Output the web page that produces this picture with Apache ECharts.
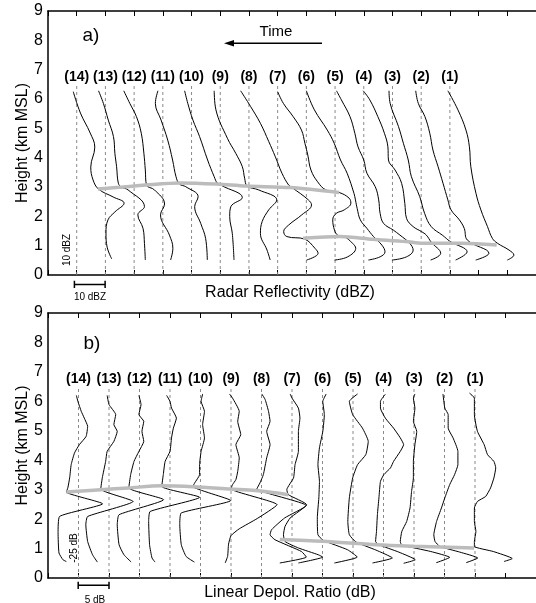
<!DOCTYPE html>
<html>
<head>
<meta charset="utf-8">
<script src="https://cdn.jsdelivr.net/npm/echarts@6/dist/echarts.min.js"></script>
<style>
  html, body { margin: 0; padding: 0; background: #fff; }
  #chart { width: 536px; height: 603px; }
</style>
</head>
<body>
<div id="chart"></div>
<script>
  // profile numbers, left (14) to right (1); profile i sits on x = i + 1
  var profileNames = ['(14)', '(13)', '(12)', '(11)', '(10)', '(9)', '(8)', '(7)', '(6)', '(5)', '(4)', '(3)', '(2)', '(1)'];
  var heightTicks = [0, 1, 2, 3, 4, 5, 6, 7, 8, 9];

  // a) reflectivity profiles: [offset from own baseline (1 = 10 dBZ), height km]
  var zProfiles = [
    [[-0.12,6.25],[0.13,5.52],[0.47,4.84],[0.63,4.36],[0.49,3.68],[0.57,3.24],[0.76,2.93],[1.27,2.66],[1.65,2.45],[1.33,2.15],[1.09,1.88],[1.02,1.43],[1.06,0.95],[1.22,0.55]],
    [[-0.24,6.28],[-0.07,5.85],[0.10,5.28],[0.28,4.72],[0.33,4.15],[0.39,3.69],[0.45,3.13],[0.55,3.0],[0.79,2.9],[1.36,2.33],[1.13,2.05],[1.31,1.59],[1.36,1.08],[1.39,0.51]],
    [[-0.36,6.28],[-0.15,5.85],[0.08,5.4],[0.25,4.83],[0.34,4.15],[0.39,3.58],[0.43,3.07],[0.71,2.9],[1.06,2.42],[0.92,2.05],[1.23,1.36],[1.35,0.91],[1.27,0.51]],
    [[-0.17,6.28],[-0.26,5.85],[-0.06,5.28],[0.17,4.6],[0.34,3.92],[0.46,3.35],[0.58,3.1],[0.8,3.01],[1.23,2.67],[1.11,2.33],[1.32,1.76],[1.49,1.25],[1.55,0.51]],
    [[-0.24,6.28],[-0.13,5.85],[0.05,5.28],[0.28,4.72],[0.56,3.92],[0.79,3.35],[0.9,3.13],[1.05,3.05],[1.77,2.64],[1.37,2.33],[1.33,1.99],[1.42,1.42],[1.48,0.51]],
    [[-0.21,6.28],[-0.15,5.63],[0.25,4.66],[0.54,4.15],[0.77,3.69],[0.85,3.3],[0.94,3.03],[1.34,2.9],[1.97,2.56],[1.69,2.22],[1.46,1.82],[1.4,1.42],[1.63,0.85],[1.74,0.51]],
    [[-0.29,6.28],[0.06,5.74],[0.4,5.17],[0.69,4.55],[0.92,4.03],[1.15,3.47],[1.38,3.07],[1.49,2.99],[2.07,2.56],[2.18,2.39],[1.84,2.05],[1.38,1.7],[1.21,1.48],[1.32,1.31],[1.95,1.22],[2.3,0.91],[2.41,0.74],[2.01,0.51]],
    [[0,6.25],[0.2,5.85],[0.54,5.4],[0.83,4.94],[0.95,4.49],[1.05,4.09],[1.16,3.58],[1.39,3.18],[1.68,2.9],[2.15,2.81],[2.49,2.62],[2.55,2.45],[2.32,2.22],[2.04,2.1],[1.92,1.88],[1.98,1.53],[2.09,1.36],[2.32,1.31],[2.61,1.08],[2.72,0.91],[2.44,0.62],[1.98,0.51]],
    [[0,6.28],[0.28,5.63],[0.73,4.94],[0.97,4.49],[1.19,3.92],[1.42,3.47],[1.66,2.78],[1.71,2.56],[1.77,2.27],[1.88,1.88],[2.11,1.59],[2.34,1.31],[2.63,1.02],[2.74,0.79],[2.57,0.62],[2.16,0.51]],
    [[0.05,6.28],[0.22,5.97],[0.52,5.4],[0.69,4.83],[0.8,4.37],[1.0,3.92],[1.11,3.47],[1.4,3.01],[1.52,2.56],[1.57,2.1],[1.69,1.76],[2.03,1.53],[2.26,1.36],[2.6,1.08],[2.72,0.85],[2.49,0.62],[1.98,0.51]],
    [[-0.02,6.28],[0.21,5.97],[0.49,5.4],[0.72,4.83],[0.84,4.37],[0.86,3.92],[1.09,3.58],[1.32,3.12],[1.43,2.44],[1.49,1.93],[1.72,1.65],[2.01,1.48],[2.18,1.36],[2.35,1.12],[2.68,0.74],[2.33,0.51]],
    [[-0.12,6.28],[-0.08,5.85],[0.21,5.06],[0.38,4.49],[0.55,3.92],[0.66,3.35],[0.95,2.67],[1.12,2.1],[1.35,1.65],[1.75,1.35],[2.0,1.15],[2.6,0.79],[2.2,0.51]],
    [[-0.19,6.28],[-0.1,5.85],[0.13,5.4],[0.3,4.83],[0.41,4.26],[0.59,3.69],[0.76,3.13],[0.93,2.56],[1.04,2.22],[1.33,1.88],[1.5,1.59],[1.61,1.19],[2.36,0.74],[1.9,0.51]],
    [[-0.07,6.28],[0.28,5.63],[0.56,4.94],[0.68,4.37],[0.73,3.69],[0.91,2.78],[1.08,2.22],[1.31,1.65],[1.48,1.25],[1.66,1.08],[2.06,0.85],[2.23,0.68],[2.0,0.51]]
  ];

  // b) LDR profiles: [offset from own baseline (1 = 5 dB), height km]
  var ldrProfiles = [
    [[-0.07,6.2],[-0.02,6.0],[0.09,5.66],[0.19,5.43],[0.30,5.15],[0.25,4.81],[0.03,4.53],[-0.13,4.25],[-0.24,3.85],[-0.29,3.4],[-0.35,3.06],[-0.4,2.92],[0.79,2.52],[-0.62,2.09],[-0.67,1.54],[-0.64,0.85],[-0.51,0.62],[-0.4,0.56]],
    [[-0.06,6.2],[0,5.89],[0.22,5.55],[0.16,5.21],[0.27,4.98],[0.16,4.64],[-0.06,4.3],[-0.11,3.96],[-0.22,3.4],[-0.27,3.02],[0.79,2.6],[-0.7,2.09],[-0.76,1.81],[-0.7,1.24],[-0.54,0.79],[-0.38,0.54]],
    [[-0.02,6.2],[0.05,5.89],[-0.02,5.55],[0.14,5.32],[0.08,4.98],[0.14,4.64],[-0.02,4.3],[-0.18,3.96],[-0.29,3.51],[-0.35,3.06],[0.79,2.66],[-0.67,2.15],[-0.73,1.81],[-0.67,1.13],[-0.51,0.79],[-0.27,0.54]],
    [[-0.11,6.2],[0,6.0],[0.05,5.77],[0.21,5.43],[0.11,5.09],[0.05,4.76],[0,4.3],[-0.16,3.96],[-0.22,3.51],[-0.27,3.11],[0.97,2.74],[-0.65,2.26],[-0.7,1.92],[-0.67,1.13],[-0.59,0.68],[-0.49,0.54]],
    [[0.07,6.25],[0.02,6.0],[0.13,5.66],[0.07,5.21],[0.13,4.76],[0.02,4.3],[-0.03,3.85],[-0.03,3.51],[-0.19,3.23],[-0.25,3.11],[0.99,2.63],[-0.63,2.21],[-0.68,1.81],[-0.63,1.13],[-0.47,0.73],[-0.2,0.54]],
    [[-0.05,6.25],[0.05,6.11],[0.27,5.66],[0.22,5.32],[0.32,4.87],[0.16,4.53],[0.27,4.08],[0.22,3.62],[0.16,3.34],[0.05,3.17],[0,3.03],[1.51,2.49],[0.86,2.02],[0.27,1.67],[0,1.44],[-0.08,1.15],[-0.11,0.74],[-0.19,0.51]],
    [[0.01,6.25],[0.12,6.06],[0.23,5.66],[0.28,5.32],[0.17,4.98],[0.28,4.53],[0.17,4.08],[0.06,3.51],[-0.05,3.23],[-0.15,3.03],[1.47,2.46],[0.76,2.04],[0.33,1.64],[0.28,1.47],[0.44,1.3],[1.31,0.9],[1.47,0.71],[0.6,0.51]],
    [[-0.06,6.25],[0,6.11],[0.21,5.77],[0.26,5.43],[0.21,4.98],[0.21,4.3],[0.1,3.85],[0.05,3.4],[-0.17,3.0],[-0.12,2.83],[0.48,2.49],[-0.06,2.04],[-0.23,1.75],[-0.28,1.47],[-0.23,1.24],[0.21,1.02],[0.86,0.79],[1.01,0.71],[0.21,0.51]],
    [[0.12,6.25],[0.01,6.0],[0.06,5.55],[0.01,4.98],[-0.1,4.42],[-0.15,3.85],[-0.1,3.28],[-0.12,2.72],[-0.17,2.04],[-0.15,1.47],[0.02,1.28],[0.82,0.96],[1.14,0.71],[0.39,0.51]],
    [[0.15,6.25],[-0.12,6.0],[-0.01,5.55],[0.31,5.09],[0.5,4.64],[0.42,4.19],[0.15,3.85],[-0.01,3.4],[-0.12,2.72],[-0.17,1.92],[-0.12,1.47],[0.1,1.22],[0.75,0.95],[1.29,0.68],[0.64,0.51]],
    [[0.06,6.24],[-0.1,6.0],[-0.1,5.77],[0.06,5.43],[0.33,5.09],[0.55,4.76],[0.66,4.53],[0.55,4.3],[0.33,3.96],[0.23,3.74],[0.01,3.51],[-0.1,3.28],[-0.15,2.72],[-0.2,2.15],[-0.23,1.58],[-0.26,1.24],[-0.15,1.13],[0.5,0.88],[1.04,0.62],[0.66,0.5]],
    [[0.03,6.25],[-0.02,6.11],[0.03,5.77],[-0.02,5.32],[0.09,4.98],[0.03,4.53],[-0.02,3.96],[-0.02,3.4],[-0.08,2.94],[-0.13,2.38],[-0.24,1.92],[-0.4,1.58],[-0.45,1.24],[-0.4,1.12],[0.55,0.9],[1.17,0.7],[0.73,0.52]],
    [[-0.05,6.25],[0.01,5.77],[0.12,5.55],[0.12,5.09],[0.28,4.76],[0.44,4.3],[0.44,3.85],[0.33,3.51],[0.17,3.17],[0.01,2.72],[-0.1,2.38],[-0.26,1.92],[-0.35,1.47],[-0.31,1.24],[-0.15,1.07],[0.5,0.88],[1.09,0.68],[0.71,0.52]],
    [[-0.18,6.28],[-0.02,6.11],[-0.02,5.55],[0.08,4.98],[0.3,4.53],[0.41,4.19],[0.62,3.96],[0.68,3.74],[0.62,3.4],[0.51,3.06],[0.35,2.77],[0.08,2.6],[-0.02,2.38],[-0.02,1.92],[0.03,1.58],[-0.02,1.24],[-0.02,1.07],[0.6,0.9],[1.22,0.66],[0.95,0.56]]
  ];

  // gray layer lines [x, height]
  var zTopLine = [[1.74,2.93],[2.49,2.99],[3.41,3.07],[4.6,3.14],[5.87,3.1],[6.91,3.03],[8.46,2.98],[10.14,2.81]];
  var zBottomLine = [[8.88,1.25],[10.17,1.31],[11.32,1.22],[12.47,1.14],[13.04,1.08],[14.42,1.08],[15.63,1.02]];
  var ldrTopLine = [[0.6,2.92],[1.73,3.0],[2.64,3.06],[3.72,3.13],[4.75,3.1],[5.99,3.02],[6.8,2.97],[7.88,2.83]];
  var ldrBottomLine = [[7.6,1.31],[9.0,1.25],[10.77,1.13],[12.0,1.08],[13.97,1.02]];

  // scale bars [x, height]
  var zScaleBar = [[0.92,-0.2],[0.92,-0.44],[0.92,-0.32],[1.99,-0.32],[1.99,-0.2],[1.99,-0.44]];
  var ldrScaleBar = [[0.99,-0.13],[0.99,-0.37],[0.99,-0.25],[2.0,-0.25],[2.0,-0.13],[2.0,-0.37]];

  var FONT = '"Liberation Sans", Arial, Helvetica, sans-serif';
  var dom = document.getElementById('chart');
  var myChart = echarts.init(dom, null, { renderer: 'canvas' });

  function xAxisFor(grid, max, pos) {
    return {
      gridIndex: grid, type: 'value', min: 0, max: max, interval: 1, position: pos,
      axisLine: { show: true, onZero: false, lineStyle: { color: '#000', width: 1.5 } },
      axisTick: { show: true, inside: true, length: 5, lineStyle: { color: '#000', width: 1 } },
      axisLabel: { show: false },
      splitLine: { show: false }
    };
  }
  function yAxisFor(grid) {
    return {
      gridIndex: grid, type: 'value', min: 0, max: 9, interval: 1,
      name: 'Height (km MSL)', nameLocation: 'middle', nameGap: 17, nameMoveOverlap: false,
      nameTextStyle: { fontSize: 16, color: '#000', fontFamily: FONT },
      axisLine: { show: true, onZero: false, lineStyle: { color: '#000', width: 1.5 } },
      axisTick: { show: false },
      axisLabel: {
        fontSize: 16, color: '#000', margin: 5, fontFamily: FONT,
        formatter: function(v) { return heightTicks.indexOf(v) >= 0 ? String(v) : ''; }
      },
      splitLine: { show: false }
    };
  }

  var series = [];
  function addPanel(grid, profiles, topLine, bottomLine, scaleBar, dashTop, labelY, smoothVal) {
    var xBot = grid * 2;
    for (var i = 0; i < profiles.length; i++) {
      var base = i + 1;
      // dashed baseline
      series.push({
        type: 'line', xAxisIndex: xBot, yAxisIndex: grid, silent: true,
        data: [[base, 0], [base, dashTop]], showSymbol: false,
        lineStyle: { color: '#8a8a8a', width: 1, type: [3, 3] }, z: 2
      });
      series.push({
        type: 'line', xAxisIndex: xBot, yAxisIndex: grid, silent: true,
        data: profiles[i].map(function(p) { return [base + p[0], p[1]]; }),
        showSymbol: false, smooth: smoothVal,
        lineStyle: { color: '#000', width: 1 }, z: 3
      });
    }
    [topLine, bottomLine].forEach(function(l) {
      series.push({
        type: 'line', xAxisIndex: xBot, yAxisIndex: grid, silent: true,
        data: l, showSymbol: false, smooth: 0.3,
        lineStyle: { color: '#bcbcbc', width: 3.5 }, z: 4
      });
    });
    series.push({
      type: 'line', xAxisIndex: xBot, yAxisIndex: grid, silent: true, clip: false,
      data: scaleBar, showSymbol: false,
      lineStyle: { color: '#000', width: 1.5 }, z: 5
    });
    series.push({
      type: 'scatter', xAxisIndex: xBot, yAxisIndex: grid, silent: true,
      data: profileNames.map(function(n, i) { return [i + 1, labelY]; }),
      symbolSize: 0,
      label: {
        show: true, position: 'inside', color: '#000', fontSize: 14, fontWeight: 'bold',
        fontFamily: FONT, textBorderWidth: 0, opacity: 1,
        formatter: function(p) { return profileNames[p.dataIndex]; }
      }, z: 5
    });
  }
  addPanel(0, zProfiles, zTopLine, zBottomLine, zScaleBar, 6.53, 6.75, 0.4);
  addPanel(1, ldrProfiles, ldrTopLine, ldrBottomLine, ldrScaleBar, 6.5, 6.74, 0.15);

  function txt(x, y, s, size, rot, weight) {
    return {
      type: 'text', x: x, y: y, rotation: rot || 0, silent: true,
      style: { text: s, fill: '#000', font: (weight || 'normal') + ' ' + size + 'px ' + FONT, textAlign: 'center', textVerticalAlign: 'middle' }
    };
  }

  option = null;
  option = {
    backgroundColor: '#fff',
    animation: false,
    grid: [
      { left: 48, top: 11, width: 493, height: 264 },
      { left: 48, top: 313, width: 494.4, height: 265 }
    ],
    xAxis: [xAxisFor(0, 17, 'bottom'), xAxisFor(0, 17, 'top'), xAxisFor(1, 16, 'bottom'), xAxisFor(1, 16, 'top')],
    yAxis: [yAxisFor(0), yAxisFor(1)],
    series: series,
    graphic: [
      txt(290, 293, 'Radar Reflectivity (dBZ)', 16),
      txt(290, 593, 'Linear Depol. Ratio (dB)', 16),
      txt(91, 36, 'a)', 19),
      txt(92, 344, 'b)', 19),
      txt(276, 32, 'Time', 15),
      txt(90, 297, '10 dBZ', 10),
      txt(95, 600, '5 dB', 10),
      txt(67.5, 250, '10 dBZ', 10, Math.PI / 2),
      txt(74, 548, '-25 dB', 10, Math.PI / 2),
      { type: 'line', silent: true, shape: { x1: 231, y1: 43.3, x2: 322, y2: 43.3 }, style: { stroke: '#000', lineWidth: 1.5 } },
      { type: 'polygon', silent: true, shape: { points: [[224, 43.3], [234, 40], [234, 46.6]] }, style: { fill: '#000' } }
    ]
  };
  if (option && typeof option === "object") {
    myChart.setOption(option, true);
  }
</script>
</body>
</html>
